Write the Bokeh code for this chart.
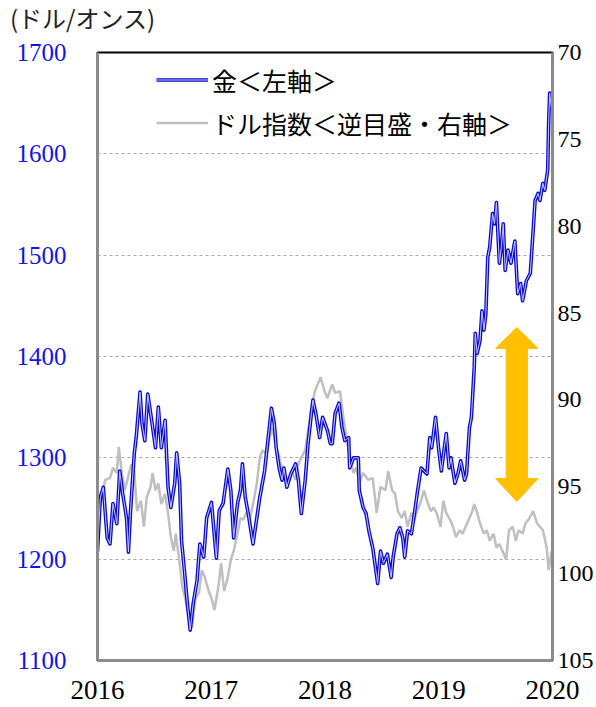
from bokeh.plotting import figure
from bokeh.models import Range1d, LinearAxis, FixedTicker, Legend, LegendItem, Div
from bokeh.layouts import column
from bokeh.embed import file_html
from bokeh.resources import INLINE

# ---- data (time in years after 2016-start of axis) ----
gold_t = [0.000, 0.025, 0.051, 0.085, 0.110, 0.136, 0.170, 0.195, 0.221, 0.255, 0.272, 0.289,
          0.323, 0.340, 0.374, 0.391, 0.416, 0.442, 0.476, 0.510, 0.535, 0.561, 0.594, 0.620,
          0.645, 0.679, 0.696, 0.722, 0.739, 0.764, 0.790, 0.815, 0.841, 0.875, 0.900, 0.934,
          0.960, 1.002, 1.045, 1.070, 1.104, 1.146, 1.172, 1.197, 1.231, 1.257, 1.274, 1.299,
          1.325, 1.359, 1.367, 1.401, 1.427, 1.469, 1.495, 1.529, 1.554, 1.571, 1.597, 1.622,
          1.639, 1.665, 1.699, 1.741, 1.766, 1.792, 1.826, 1.851, 1.894, 1.919, 1.953, 1.979,
          2.021, 2.047, 2.064, 2.089, 2.123, 2.149, 2.174, 2.208, 2.217, 2.251, 2.293, 2.301,
          2.335, 2.361, 2.386, 2.420, 2.463, 2.488, 2.514, 2.548, 2.582, 2.599, 2.633, 2.658,
          2.684, 2.701, 2.726, 2.760, 2.786, 2.811, 2.845, 2.870, 2.896, 2.921, 2.938, 2.972,
          2.998, 3.023, 3.049, 3.066, 3.091, 3.108, 3.142, 3.168, 3.193, 3.227, 3.244, 3.270,
          3.287, 3.312, 3.321, 3.338, 3.363, 3.380, 3.397, 3.414, 3.431, 3.448, 3.473, 3.490,
          3.507, 3.533, 3.550, 3.567, 3.584, 3.609, 3.635, 3.669, 3.694, 3.720, 3.737, 3.771,
          3.805, 3.822, 3.847, 3.873, 3.890, 3.915, 3.932, 3.958, 3.966, 3.975, 3.992]
gold_v = [1208, 1261, 1271, 1221, 1215, 1255, 1235, 1287, 1265, 1241, 1207, 1245,
          1304, 1320, 1365, 1334, 1317, 1363, 1337, 1310, 1350, 1310, 1337, 1271,
          1251, 1275, 1305, 1275, 1218, 1189, 1156, 1130, 1156, 1179, 1215, 1202,
          1241, 1256, 1201, 1248, 1255, 1289, 1268, 1221, 1255, 1268, 1294, 1261,
          1245, 1221, 1215, 1241, 1261, 1287, 1314, 1349, 1334, 1310, 1290, 1278,
          1290, 1271, 1284, 1294, 1278, 1245, 1278, 1314, 1357, 1344, 1320, 1340,
          1327, 1314, 1314, 1344, 1354, 1330, 1317, 1320, 1290, 1300, 1300, 1268,
          1251, 1245, 1228, 1211, 1176, 1208, 1196, 1205, 1182, 1202, 1225, 1231,
          1221, 1202, 1228, 1225, 1245, 1265, 1290, 1287, 1284, 1320, 1310, 1340,
          1310, 1287, 1310, 1324, 1290, 1300, 1275, 1284, 1297, 1278, 1284, 1330,
          1340, 1389, 1423, 1403, 1416, 1445, 1426, 1442, 1498, 1508, 1541, 1531,
          1552, 1492, 1508, 1531, 1485, 1505, 1492, 1514, 1462, 1472, 1455, 1475,
          1482, 1511, 1554, 1561, 1554, 1571, 1564, 1584, 1630, 1660, 1643]

usd_t = [0.000, 0.025, 0.068, 0.110, 0.136, 0.170, 0.187, 0.212, 0.238, 0.263, 0.297, 0.323,
         0.348, 0.382, 0.408, 0.433, 0.467, 0.484, 0.510, 0.535, 0.561, 0.594, 0.620, 0.645,
         0.671, 0.688, 0.722, 0.747, 0.773, 0.807, 0.832, 0.858, 0.892, 0.917, 0.943, 0.977,
         1.002, 1.028, 1.062, 1.087, 1.113, 1.146, 1.172, 1.197, 1.231, 1.257, 1.282, 1.316,
         1.342, 1.367, 1.401, 1.427, 1.452, 1.486, 1.512, 1.537, 1.571, 1.597, 1.622, 1.656,
         1.682, 1.707, 1.741, 1.766, 1.792, 1.826, 1.851, 1.877, 1.911, 1.936, 1.962, 1.996,
         2.021, 2.064, 2.089, 2.132, 2.166, 2.191, 2.217, 2.251, 2.276, 2.301, 2.335, 2.378,
         2.420, 2.454, 2.488, 2.531, 2.556, 2.590, 2.616, 2.641, 2.675, 2.701, 2.726, 2.760,
         2.786, 2.811, 2.845, 2.870, 2.896, 2.930, 2.955, 2.981, 3.015, 3.040, 3.066, 3.100,
         3.125, 3.151, 3.185, 3.210, 3.236, 3.270, 3.295, 3.312, 3.338, 3.363, 3.397, 3.422,
         3.448, 3.482, 3.507, 3.533, 3.567, 3.592, 3.618, 3.652, 3.677, 3.703, 3.737, 3.762,
         3.788, 3.830, 3.864, 3.890, 3.915, 3.949, 3.966, 3.992]
usd_v = [96.9, 96.0, 94.6, 94.5, 93.9, 94.2, 92.7, 94.1, 95.2, 94.6, 93.7, 94.1,
         96.4, 95.8, 97.3, 95.6, 95.0, 94.2, 95.2, 94.8, 96.0, 95.4, 96.5, 97.9,
         98.7, 97.7, 99.4, 100.8, 101.5, 102.5, 103.1, 101.5, 101.1, 99.8, 100.2, 101.0,
         101.4, 102.1, 100.8, 99.4, 101.0, 100.2, 99.2, 98.7, 97.7, 96.8, 96.9, 96.4,
         96.8, 96.0, 94.8, 93.3, 92.9, 93.1, 92.2, 91.6, 92.7, 93.3, 93.9, 94.5,
         94.6, 94.1, 94.6, 93.7, 93.3, 92.9, 91.8, 90.6, 89.5, 89.1, 88.7, 89.5,
         89.9, 89.1, 89.6, 89.5, 91.2, 92.3, 93.3, 94.2, 93.9, 94.8, 94.2, 94.6,
         94.5, 96.5, 95.0, 95.2, 94.1, 95.2, 95.4, 96.4, 96.8, 96.4, 97.3, 96.5,
         96.9, 96.4, 95.8, 95.2, 95.8, 96.4, 96.2, 96.5, 97.3, 95.8, 96.5, 96.9,
         97.3, 97.9, 97.5, 97.7, 97.3, 96.8, 96.4, 96.0, 96.5, 97.1, 97.7, 97.5,
         98.1, 97.7, 98.5, 98.3, 98.8, 99.2, 97.5, 97.3, 98.1, 97.5, 97.7, 97.1,
         96.9, 96.4, 97.1, 97.3, 97.5, 98.5, 99.8, 98.7]

year_ticks = [2016, 2017, 2018, 2019, 2020]
gold_ticks = [1100, 1200, 1300, 1400, 1500, 1600, 1700]
usd_ticks = [70, 75, 80, 85, 90, 95, 100, 105]
grid_ticks = [1200, 1300, 1400, 1500, 1600]
unit_title = "(ドル/オンス)"

gold_x = [2016 + t for t in gold_t]
usd_x = [2016 + t for t in usd_t]

SERIF = "Liberation Serif"
JP = "Noto Sans CJK JP"

HEAD = 36  # height of the unit-title strip above the plot

head = Div(text=unit_title, width=596, height=HEAD, margin=0,
           styles={"font-family": JP, "font-size": "24px", "line-height": f"{HEAD}px",
                   "color": "#222222", "padding-left": "10px", "white-space": "nowrap"})

p = figure(width=596, height=707 - HEAD, output_backend="svg", toolbar_location=None,
           x_range=Range1d(2016, 2020), y_range=Range1d(1100, 1700),
           min_border_left=97, min_border_right=0, min_border_top=52 - HEAD, min_border_bottom=47,
           background_fill_color="white", border_fill_color="white", margin=0)
p.extra_y_ranges = {"dxy": Range1d(105, 70)}

p.outline_line_color = "black"
p.outline_line_width = 2

# grids
p.xgrid.visible = False
p.ygrid.ticker = FixedTicker(ticks=grid_ticks)
p.ygrid.grid_line_color = "#A6A6A6"
p.ygrid.grid_line_dash = "3 3"
p.ygrid.grid_line_width = 1

# left axis
ly = p.yaxis[0]
ly.ticker = FixedTicker(ticks=gold_ticks)
ly.axis_line_color = "#8C8C8C"
ly.axis_line_width = 3
ly.major_tick_line_color = None
ly.minor_tick_line_color = None
ly.major_tick_out = 0
ly.minor_tick_out = 0
ly.major_label_text_color = "#1414E6"
ly.major_label_text_font = SERIF
ly.major_label_text_font_size = "25px"
ly.major_label_standoff = 31

# bottom axis
bx = p.xaxis[0]
bx.ticker = FixedTicker(ticks=year_ticks)
bx.major_label_overrides = {y: str(y) for y in year_ticks}
bx.axis_line_color = "#8C8C8C"
bx.axis_line_width = 3
bx.major_tick_line_color = None
bx.minor_tick_line_color = None
bx.major_tick_out = 0
bx.minor_tick_out = 0
bx.major_label_text_color = "black"
bx.major_label_text_font = SERIF
bx.major_label_text_font_size = "27px"
bx.major_label_standoff = 20

# right axis (reversed dollar index)
ry = LinearAxis(y_range_name="dxy", ticker=FixedTicker(ticks=usd_ticks))
ry.axis_line_color = "#8C8C8C"
ry.axis_line_width = 3
ry.major_tick_line_color = None
ry.minor_tick_line_color = None
ry.major_tick_out = 0
ry.minor_tick_out = 0
ry.major_label_text_color = "black"
ry.major_label_text_font = SERIF
ry.major_label_text_font_size = "24px"
ry.major_label_standoff = 5
p.add_layout(ry, "right")

# series
r_usd = p.line(usd_x, usd_v, y_range_name="dxy", line_color="#BFBFBF", line_width=2.5)
r_gold_o = p.line(gold_x, gold_v, line_color="#0A0ACD", line_width=3.6, line_join="round")
r_gold_i = p.line(gold_x, gold_v, line_color="#C8C8FF", line_width=1.0, line_join="round")

# double arrow annotation
ax_c = 2019.686
hs, hh = 0.0934, 0.187
p.patch([ax_c, ax_c + hh, ax_c + hs, ax_c + hs, ax_c + hh, ax_c, ax_c - hh, ax_c - hs, ax_c - hs, ax_c - hh],
        [1428.6, 1408.0, 1408.0, 1279.6, 1279.6, 1257.0, 1279.6, 1279.6, 1408.0, 1408.0],
        fill_color="#FFC000", line_color="#FFC000", line_width=1)

legend = Legend(items=[LegendItem(label="金＜左軸＞", renderers=[r_gold_o, r_gold_i]),
                       LegendItem(label="ドル指数＜逆目盛・右軸＞", renderers=[r_usd])],
                location=(59, 516), margin=0, padding=0, spacing=0,
                glyph_width=52, glyph_height=43, label_height=43, label_standoff=4,
                label_text_font=JP, label_text_font_size="25px", label_text_color="black",
                background_fill_alpha=0, border_line_color=None)
p.add_layout(legend)

layout = column(head, p, spacing=0, margin=0)
open("out.html", "w").write(file_html(layout, INLINE))
